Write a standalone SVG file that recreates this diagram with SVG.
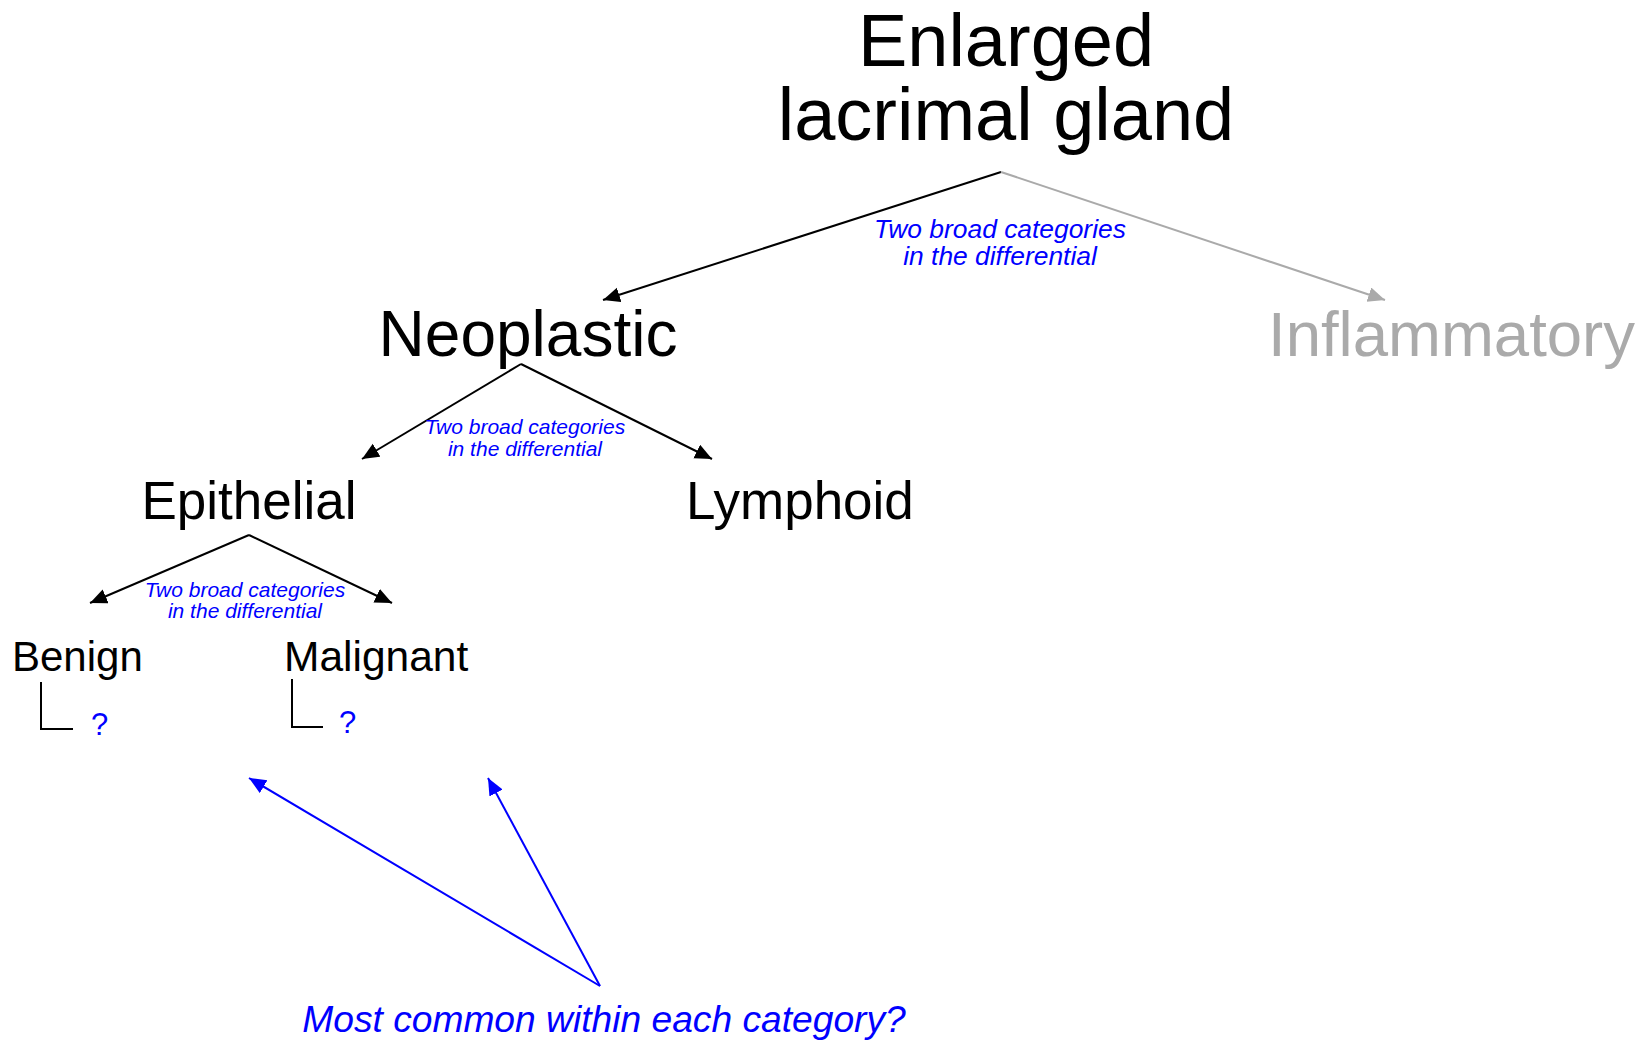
<svg xmlns="http://www.w3.org/2000/svg" width="1643" height="1044" viewBox="0 0 1643 1044">
<style>
text{font-family:"Liberation Sans",Arial,sans-serif}
.node{fill:#000}
.gray{fill:#aaaaaa}
.lbl{fill:#0000ff;font-style:italic;text-anchor:middle}
.q{fill:#0000ff}
.ln{fill:none;stroke:#000;stroke-width:2}
.lg{fill:none;stroke:#aaaaaa;stroke-width:2}
.lb{fill:none;stroke:#0000ff;stroke-width:2}
</style>
<defs>
<marker id="ak" markerUnits="userSpaceOnUse" markerWidth="19" markerHeight="17" refX="17" refY="7.5" orient="auto"><path d="M0,0 L17,7.5 L0,15 Z" fill="#000"/></marker>
<marker id="ag" markerUnits="userSpaceOnUse" markerWidth="19" markerHeight="17" refX="17" refY="7.5" orient="auto"><path d="M0,0 L17,7.5 L0,15 Z" fill="#aaaaaa"/></marker>
<marker id="ab" markerUnits="userSpaceOnUse" markerWidth="19" markerHeight="17" refX="17" refY="7.5" orient="auto"><path d="M0,0 L17,7.5 L0,15 Z" fill="#0000ff"/></marker>
</defs>
<rect width="1643" height="1044" fill="#fff"/>
<g id="connectors">
<line class="ln" x1="1001" y1="172" x2="603" y2="300" marker-end="url(#ak)"/>
<line class="lg" x1="1001" y1="172" x2="1385" y2="300" marker-end="url(#ag)"/>
<line class="ln" x1="521" y1="364" x2="362" y2="459" marker-end="url(#ak)"/>
<line class="ln" x1="521" y1="364" x2="712" y2="459" marker-end="url(#ak)"/>
<line class="ln" x1="249" y1="535" x2="90" y2="603" marker-end="url(#ak)"/>
<line class="ln" x1="249" y1="535" x2="392" y2="603" marker-end="url(#ak)"/>
<polyline class="ln" points="41,682 41,729 73,729"/>
<polyline class="ln" points="292,679 292,727 323,727"/>
<line class="lb" x1="600" y1="986" x2="249" y2="778" marker-end="url(#ab)"/>
<line class="lb" x1="600" y1="986" x2="488" y2="778" marker-end="url(#ab)"/>
</g>
<g id="root"><text class="node" font-size="74" text-anchor="middle"><tspan x="1006" y="66">Enlarged</tspan><tspan x="1006" y="140">lacrimal gland</tspan></text></g>
<g id="label-top"><text class="lbl" font-size="26.4"><tspan x="1000" y="238">Two broad categories</tspan><tspan x="1000" y="265">in the differential</tspan></text></g>
<g id="neoplastic"><text class="node" x="528" y="356" font-size="64" text-anchor="middle">Neoplastic</text></g>
<g id="inflammatory"><text class="gray" x="1268" y="356" font-size="63.5">Inflammatory</text></g>
<g id="label-neo"><text class="lbl" font-size="21"><tspan x="525" y="434">Two broad categories</tspan><tspan x="525" y="456">in the differential</tspan></text></g>
<g id="epithelial"><text class="node" x="249" y="519" font-size="53" text-anchor="middle">Epithelial</text></g>
<g id="lymphoid"><text class="node" x="686" y="519" font-size="53">Lymphoid</text></g>
<g id="label-epi"><text class="lbl" font-size="21"><tspan x="245" y="597">Two broad categories</tspan><tspan x="245" y="618">in the differential</tspan></text></g>
<g id="benign"><text class="node" x="12" y="671" font-size="42">Benign</text></g>
<g id="malignant"><text class="node" x="284" y="671" font-size="42.5">Malignant</text></g>
<g id="q-benign"><text class="q" x="91" y="735" font-size="31">?</text></g>
<g id="q-malignant"><text class="q" x="339" y="733" font-size="31">?</text></g>
<g id="most-common"><text class="lbl" x="604" y="1032" font-size="37.2">Most common within each category?</text></g>
</svg>
